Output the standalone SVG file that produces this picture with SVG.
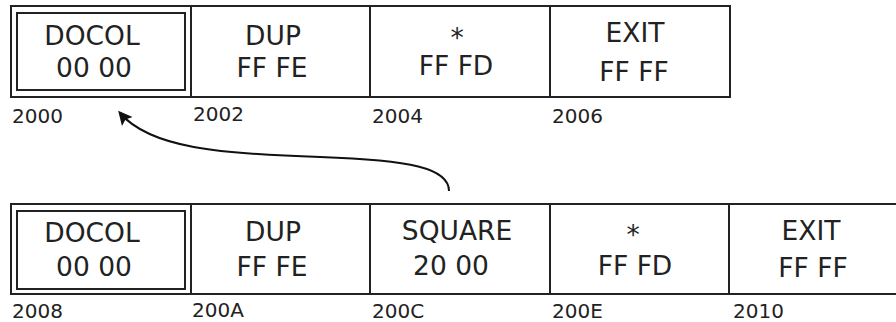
<svg xmlns="http://www.w3.org/2000/svg" width="896" height="322" viewBox="0 0 896 322">
  <style>
    .cell { fill: #ffffff; stroke: #222222; stroke-width: 2; }
    .inner { fill: none; stroke: #222222; stroke-width: 2; }
    .t { font-family: "DejaVu Sans", sans-serif; font-size: 26.5px; fill: #222222; text-anchor: middle; }
    .addr { font-family: "DejaVu Sans", sans-serif; font-size: 20px; fill: #222222; }
    .link { fill: none; stroke: #111111; stroke-width: 2; }
  </style>
  <defs>
    <marker id="head" viewBox="0 0 10 10" refX="8" refY="5" markerWidth="7" markerHeight="7" orient="auto" markerUnits="strokeWidth">
      <path d="M0,0 L10,5 L0,10 L2,5 Z" fill="#111111"/>
    </marker>
  </defs>
  <rect width="896" height="322" fill="#ffffff"/>

  <!-- upper word: definition of SQUARE -->
  <g id="w2000">
    <rect class="cell" x="11" y="6" width="180" height="91"/>
    <rect class="inner" x="17" y="13" width="168" height="77"/>
    <text class="t" x="92" y="45">DOCOL</text>
    <text class="t" x="94" y="77">00 00</text>
    <text class="addr" x="12" y="123">2000</text>
  </g>
  <g id="w2002">
    <rect class="cell" x="191" y="6" width="179" height="91"/>
    <text class="t" x="273" y="45">DUP</text>
    <text class="t" x="272" y="77">FF FE</text>
    <text class="addr" x="193" y="121">2002</text>
  </g>
  <g id="w2004">
    <rect class="cell" x="370" y="6" width="180" height="91"/>
    <text class="t" x="457" y="47">*</text>
    <text class="t" x="456" y="75">FF FD</text>
    <text class="addr" x="372" y="123">2004</text>
  </g>
  <g id="w2006">
    <rect class="cell" x="550" y="6" width="180" height="91"/>
    <text class="t" x="635" y="42">EXIT</text>
    <text class="t" x="634" y="81">FF FF</text>
    <text class="addr" x="552" y="123">2006</text>
  </g>

  <!-- lower word: caller -->
  <g id="w2008">
    <rect class="cell" x="11" y="204" width="180" height="90"/>
    <rect class="inner" x="17" y="211" width="168" height="78"/>
    <text class="t" x="92" y="242">DOCOL</text>
    <text class="t" x="94" y="276">00 00</text>
    <text class="addr" x="12" y="318">2008</text>
  </g>
  <g id="w200A">
    <rect class="cell" x="191" y="204" width="179" height="90"/>
    <text class="t" x="273" y="241">DUP</text>
    <text class="t" x="272" y="276">FF FE</text>
    <text class="addr" x="192" y="317">200A</text>
  </g>
  <g id="w200C">
    <rect class="cell" x="370" y="204" width="180" height="90"/>
    <text class="t" x="457" y="240">SQUARE</text>
    <text class="t" x="451" y="275">20 00</text>
    <text class="addr" x="372" y="318">200C</text>
  </g>
  <g id="w200E">
    <rect class="cell" x="550" y="204" width="179" height="90"/>
    <text class="t" x="633" y="244">*</text>
    <text class="t" x="635" y="275">FF FD</text>
    <text class="addr" x="552" y="318">200E</text>
  </g>
  <g id="w2010">
    <rect class="cell" x="729" y="204" width="180" height="90"/>
    <text class="t" x="811" y="240">EXIT</text>
    <text class="t" x="813" y="277">FF FF</text>
    <text class="addr" x="733" y="318">2010</text>
  </g>

  <!-- pointer from SQUARE's cell back to its definition -->
  <g id="connectors">
    <path class="link" d="M449,191 C449,168 410,160 320,157 C220,154 150,148 120,113" marker-end="url(#head)"/>
  </g>
</svg>
